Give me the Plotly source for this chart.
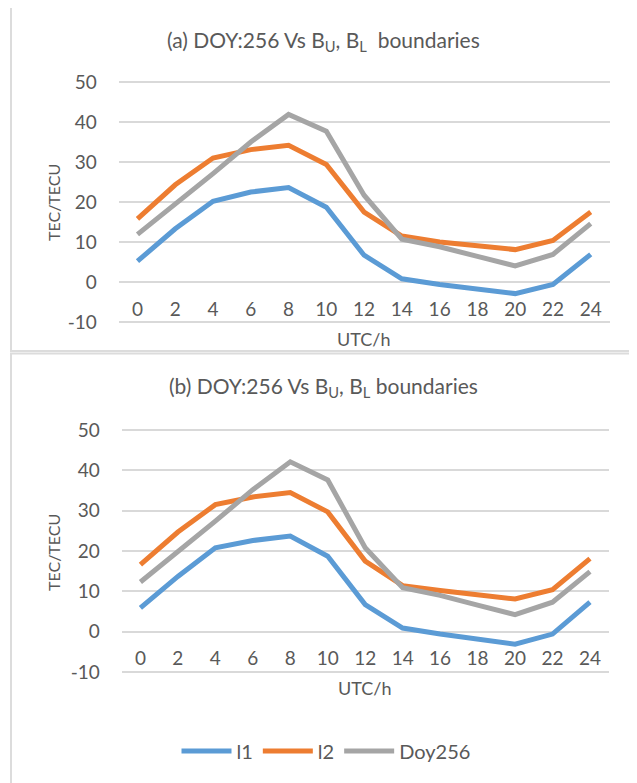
import plotly.graph_objects as go

hours = [0, 2, 4, 6, 8, 10, 12, 14, 16, 18, 20, 22, 24]
y_ticks = [-10, 0, 10, 20, 30, 40, 50]

a_l1 = [5.2, 13.3, 20.2, 22.5, 23.6, 18.7, 6.7, 0.8, -0.6, -1.7, -2.9, -0.6, 6.9]
a_l2 = [15.8, 24.3, 31.0, 33.1, 34.2, 29.4, 17.5, 11.5, 10.0, 8.9, 8.1, 10.4, 17.5]
a_doy = [11.9, 19.4, 27.1, 35.0, 41.9, 37.7, 21.7, 10.7, 8.8, 6.4, 4.0, 6.9, 14.6]

b_l1 = [5.9, 13.7, 20.8, 22.6, 23.7, 18.7, 6.7, 0.9, -0.6, -1.8, -3.1, -0.6, 7.3]
b_l2 = [16.6, 24.7, 31.5, 33.4, 34.5, 29.7, 17.5, 11.4, 10.2, 9.0, 8.1, 10.4, 18.1]
b_doy = [12.3, 19.7, 27.4, 35.2, 42.1, 37.6, 20.8, 10.9, 9.0, 6.6, 4.2, 7.3, 14.9]

series_names = ["l1", "l2", "Doy256"]
colors = ["#5B9BD5", "#ED7D31", "#A5A5A5"]
titles = ["(a) DOY:256 Vs B<sub>U</sub>, B<sub>L</sub>\u00a0 boundaries",
          "(b) DOY:256 Vs B<sub>U</sub>, B<sub>L</sub> boundaries"]

W, H = 637, 783
OFF = 8  # page body margin offset
FONT = "Lato"
TXT = "#595959"
GRID = "#D9D9D9"
BORDER = "#DCDCDC"

def px(x):
    return (x - OFF) / W

def py(y):
    return 1 - (y - OFF) / H

fig = go.Figure()

panels = [
    dict(data=[a_l1, a_l2, a_doy], xd=[118.6, 609.6], yd=[322, 82], title_y=41, xt_y=339, yt_y=203),
    dict(data=[b_l1, b_l2, b_doy], xd=[121.7, 608.7], yd=[672, 430], title_y=387, xt_y=688, yt_y=553),
]

YMIN, YMAX = -10, 50
PAD = 0.6

annotations = []
shapes = []
for i, p in enumerate(panels):
    xa = "x" if i == 0 else "x2"
    ya = "y" if i == 0 else "y2"
    for name, vals, col in zip(series_names, p["data"], colors):
        fig.add_trace(go.Scatter(
            x=hours, y=vals, mode="lines", name=name,
            line=dict(color=col, width=5),
            xaxis=xa, yaxis=ya, showlegend=(i == 1),
        ))
    ppu = (p["yd"][0] - p["yd"][1]) / (YMAX - YMIN)
    bot_px = p["yd"][0] + PAD * ppu
    top_px = p["yd"][1] - PAD * ppu
    y0p, y1p = py(bot_px), py(top_px)
    zero_pos = py(p["yd"][0] - (0 - YMIN) * ppu)
    xkey = "xaxis" if i == 0 else "xaxis2"
    ykey = "yaxis" if i == 0 else "yaxis2"
    fig.layout[xkey] = dict(
        domain=[px(p["xd"][0]), px(p["xd"][1])],
        range=[-1, 25], tickvals=hours, ticktext=[str(h) for h in hours],
        showgrid=False, zeroline=False, showline=False, automargin=False,
        anchor="free", position=zero_pos,
        ticks="outside", ticklen=10, tickcolor="rgba(0,0,0,0)",
        tickfont=dict(family=FONT, size=19, color=TXT),
    )
    fig.layout[ykey] = dict(
        domain=[y0p, y1p], range=[YMIN - PAD, YMAX + PAD],
        tickvals=y_ticks, ticktext=[str(v) for v in y_ticks],
        showgrid=True, gridcolor=GRID, gridwidth=1.5,
        zeroline=True, zerolinecolor=GRID, zerolinewidth=1.5,
        showline=False, anchor=xa, automargin=False,
        ticks="outside", ticklen=17, tickcolor="rgba(0,0,0,0)",
        tickfont=dict(family=FONT, size=19, color=TXT),
    )
    annotations.append(dict(text=titles[i], x=px(323.5), y=py(p["title_y"]), xref="paper", yref="paper",
                            showarrow=False, xanchor="center", yanchor="middle",
                            font=dict(family=FONT, size=21, color=TXT)))
    annotations.append(dict(text="UTC/h", x=px((p["xd"][0] + p["xd"][1]) / 2), y=py(p["xt_y"]),
                            xref="paper", yref="paper", showarrow=False, xanchor="center", yanchor="middle",
                            font=dict(family=FONT, size=18, color=TXT)))
    annotations.append(dict(text="TEC/TECU", x=px(53), y=py(p["yt_y"]), xref="paper", yref="paper",
                            showarrow=False, textangle=-90, xanchor="center", yanchor="middle",
                            font=dict(family=FONT, size=16, color=TXT)))

shapes.append(dict(type="rect", xref="paper", yref="paper", x0=px(11), x1=px(634.5),
                   y0=py(351), y1=py(7), line=dict(color=BORDER, width=2)))
shapes.append(dict(type="rect", xref="paper", yref="paper", x0=px(11), x1=px(634.5),
                   y0=py(820), y1=py(353.5), line=dict(color=BORDER, width=2)))

fig.update_layout(
    width=W, height=H, margin=dict(l=0, r=0, t=0, b=0, autoexpand=False),
    paper_bgcolor="white", plot_bgcolor="white",
    annotations=annotations, shapes=shapes,
    legend=dict(orientation="h", x=px(326), y=py(751), xanchor="center", yanchor="middle",
                itemwidth=50,
                font=dict(family=FONT, size=20, color=TXT), bgcolor="rgba(0,0,0,0)"),
)

fig.write_html("out.html")
